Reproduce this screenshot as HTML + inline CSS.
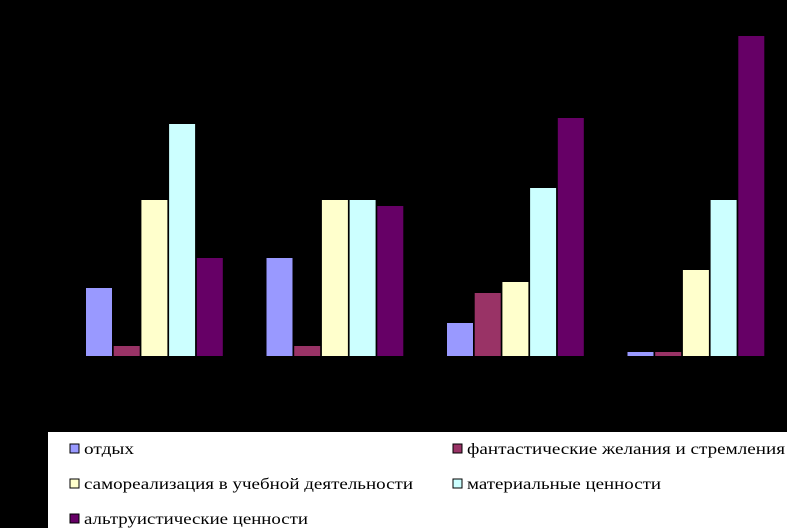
<!DOCTYPE html>
<html><head><meta charset="utf-8"><style>
html,body{margin:0;padding:0;background:#000;width:787px;height:528px;overflow:hidden}
svg{display:block}
text{font-family:"Liberation Serif",serif;font-size:16px;fill:#000}
</style></head><body>
<svg id="chart" width="787" height="528" xmlns="http://www.w3.org/2000/svg">
<rect x="0" y="0" width="787" height="528" fill="#000"/>
<g id="bars"></g>
<rect x="48" y="432" width="739" height="96" fill="#fff"/>
<g id="legend"></g>
</svg>
<script>
const categories = ["g1","g2","g3","g4"];
const seriesNames = ["отдых","фантастические желания и стремления","самореализация в учебной деятельности","материальные ценности","альтруистические ценности"];
const rest = [68,98,33,4];
const fantasy = [10,10,63,4];
const selfReal = [156,156,74,86];
const material = [232,156,168,156];
const altruism = [98,150,238,320];
const colors = ["#9999ff","#993366","#ffffcc","#ccffff","#660066"];
const series = [rest,fantasy,selfReal,material,altruism];

const NS="http://www.w3.org/2000/svg";
const baseY=356, pxPerUnit=1;
function yScale(v){return baseY - v*pxPerUnit;}
function xGroup(i){return 86 + i*180.5;}
const barW=26, barStep=27.7;
const gb=document.getElementById('bars');
series.forEach((s,si)=>{
  s.forEach((v,ci)=>{
    const r=document.createElementNS(NS,'rect');
    
    
    r.setAttribute('x',xGroup(ci)+si*barStep);
    r.setAttribute('y',yScale(v));
    r.setAttribute('width',barW);
    r.setAttribute('height',baseY-yScale(v));
    r.setAttribute('fill',colors[si]);
    gb.appendChild(r);
  });
});
const lg=document.getElementById('legend');
const legPos=[[70,449],[453,449],[70,484],[453,484],[70,519]];
const legW=[50,318,329,194,224];
seriesNames.forEach((n,i)=>{
  const g=document.createElementNS(NS,'g');
  
  
  const m=document.createElementNS(NS,'rect');
  m.setAttribute('x',legPos[i][0]);m.setAttribute('y',legPos[i][1]-5);
  m.setAttribute('width',9);m.setAttribute('height',9);
  m.setAttribute('fill',colors[i]);m.setAttribute('stroke','#000');m.setAttribute('stroke-width','1');
  g.appendChild(m);
  const t=document.createElementNS(NS,'text');
  t.setAttribute('x',legPos[i][0]+14);t.setAttribute('y',legPos[i][1]+5);
  t.setAttribute('textLength',legW[i]);t.setAttribute('lengthAdjust','spacingAndGlyphs');
  t.textContent=n;
  g.appendChild(t);
  lg.appendChild(g);
});
</script>
</body></html>
